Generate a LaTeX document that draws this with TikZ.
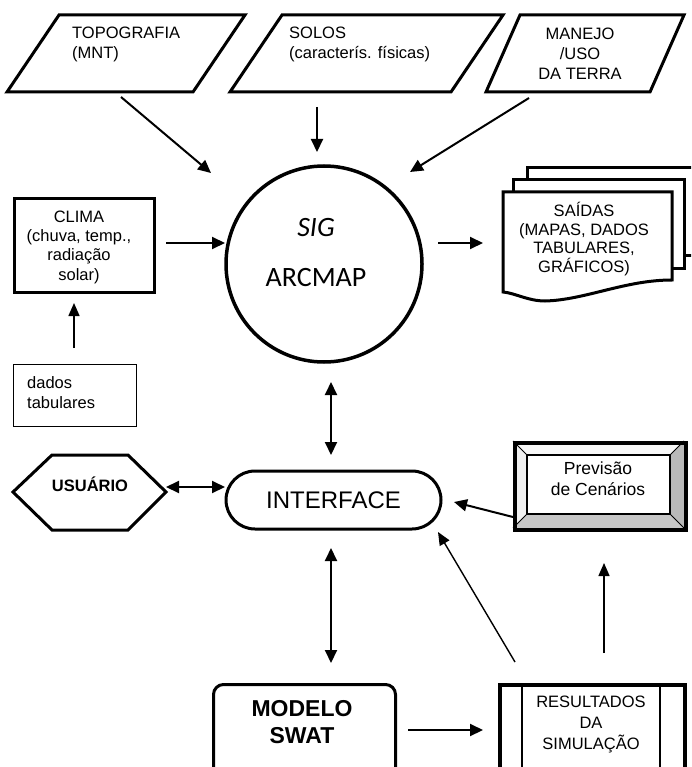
\documentclass[tikz,border=0pt]{standalone}
\usepackage{fontspec}
\setmainfont{Liberation Sans}
\newfontfamily\calfont{Carlito}
\usetikzlibrary{arrows.meta}
\begin{document}
\begin{tikzpicture}[x=1pt,y=-1pt,
  arr/.style={line width=2pt,-{Triangle[length=13pt,width=12pt]}},
  darr/.style={line width=2pt,{Triangle[length=13pt,width=12pt]}-{Triangle[length=13pt,width=12pt]}},
  tarr/.style={line width=1.4pt,-{Triangle[length=13pt,width=11pt]}},
  txt/.style={inner sep=0pt,font=\fontsize{16.5}{20}\selectfont},
  thick3/.style={line width=3pt},
  para/.style={line width=3pt,line join=miter},
  page/.style={line width=3pt,fill=white}]
\useasboundingbox (0,0) rectangle (691,767);
\clip (0,0) rectangle (691,767);
\fill[white] (0,0) rectangle (691,767);

% ---- top inputs (parallelograms)
\draw[para] (59,15) -- (245,15) -- (193,92) -- (7,92) -- cycle;
\node[txt,align=left,anchor=west] (topo) at (72,44) {TOPOGRAFIA\\(MNT)};
\draw[para] (282,15) -- (503,15) -- (451,92) -- (230,92) -- cycle;
\node[txt,align=left,anchor=west] (solos) at (289,44) {SOLOS\\(caracterís. físicas)};
\draw[para] (520,15) -- (684,15) -- (650,92) -- (486,92) -- cycle;
\node[txt,align=center] (manejo) at (580,54) {MANEJO\\/USO\\DA TERRA};

% ---- SIG circle
\node[circle,draw,line width=3.5pt,minimum size=196pt,inner sep=0pt] (sig) at (324,264) {};
\node[inner sep=0pt,font=\calfont\itshape\fontsize{28}{30}\selectfont] (sigt) at (316,228) {SIG};
\node[inner sep=0pt,font=\calfont\fontsize{28}{30}\selectfont] (arc) at (316,278) {ARCMAP};

% ---- CLIMA
\node[draw,thick3,minimum width=140pt,minimum height=94pt,anchor=north west] (climabox) at (13,197) {};
\node[txt,align=center,font=\fontsize{16.5}{19.3}\selectfont] (clima) at (79,247) {CLIMA\\(chuva, temp.,\\radiação\\solar)};

% ---- dados tabulares
\node[draw,line width=1.2pt,minimum width=123pt,minimum height=62pt,anchor=north west] (dadosbox) at (13,364) {};
\node[txt,align=left,anchor=west] (dados) at (27,393) {dados\\tabulares};

% ---- SAIDAS (multi document)
\draw[page] (527,168) rectangle (720,255);
\draw[page] (513,180) rectangle (684,268);
\draw[page,line join=miter] (503,192) -- (672,192) -- (672,280)
   .. controls (625,280) and (585,300) .. (545,301)
   .. controls (528,301) and (515,293) .. (503,292) -- cycle;
\node[txt,align=center,font=\fontsize{16.5}{18.5}\selectfont] (saidas) at (584,239) {SAÍDAS\\(MAPAS, DADOS\\TABULARES,\\GRÁFICOS)};

% ---- USUARIO hexagon
\draw[thick3,line join=miter] (13,492) -- (52,455) -- (128,455) -- (166,492) -- (128,530) -- (52,530) -- cycle;
\node[txt,font=\bfseries\fontsize{16.5}{20}\selectfont] (usr) at (90,484) {USUÁRIO};

% ---- INTERFACE
\node[draw,thick3,rounded corners=29pt,minimum width=215pt,minimum height=58pt,inner sep=0pt,
      font=\fontsize{24}{28}\selectfont] (iface) at (333.5,500) {INTERFACE};

% ---- Previsao de Cenarios (bevel box)
\fill[gray!6] (513,441) -- (684,441) -- (670,455) -- (527,455) -- cycle;
\fill[gray!12] (513,441) -- (527,455) -- (527,514) -- (513,528) -- cycle;
\fill[gray!55] (684,441) -- (684,528) -- (670,514) -- (670,455) -- cycle;
\fill[gray!45] (513,528) -- (684,528) -- (670,514) -- (527,514) -- cycle;
\draw[line width=1pt] (513,441) -- (527,455) (684,441) -- (670,455) (684,528) -- (670,514) (513,528) -- (527,514);
\draw[line width=2pt] (527,455) rectangle (670,514);
\node[draw,line width=3.5pt,minimum width=171pt,minimum height=87pt,anchor=north west] (prevbox) at (513,441) {};
\node[txt,align=center,font=\fontsize{17.5}{21}\selectfont] (prev) at (598,479) {Previsão\\de Cenários};

% ---- MODELO SWAT
\node[draw,thick3,rounded corners=10pt,minimum width=182pt,minimum height=110pt,anchor=north west] (swatbox) at (212,683) {};
\node[txt,align=center,font=\bfseries\fontsize{23}{27}\selectfont] (swat) at (302,722) {MODELO\\SWAT};

% ---- RESULTADOS
\node[draw,line width=3.5pt,minimum width=185pt,minimum height=110pt,anchor=north west] (resbox) at (498,683) {};
\draw[line width=2.5pt] (522,683) -- (522,800) (660,683) -- (660,800);
\node[txt,align=center,font=\fontsize{16.5}{21}\selectfont] (res) at (591,724) {RESULTADOS\\DA\\SIMULAÇÃO};

% ---- connector end points
\coordinate (a1s) at (121,97);  \coordinate (a1e) at (211,173);
\coordinate (a2s) at (317,107); \coordinate (a2e) at (317,152);
\coordinate (a3s) at (529,98);  \coordinate (a3e) at (410,172);
\coordinate (a4s) at (166,243); \coordinate (a4e) at (225,243);
\coordinate (a5s) at (438,243); \coordinate (a5e) at (483,243);
\coordinate (a6s) at (74,348);  \coordinate (a6e) at (74,303);
\coordinate (a7s) at (331,382); \coordinate (a7e) at (331,455);
\coordinate (a8s) at (166,487); \coordinate (a8e) at (225,487);
\coordinate (a9s) at (513,517); \coordinate (a9e) at (454,502);
\coordinate (a10s) at (515,662); \coordinate (a10e) at (438,532);
\coordinate (a11s) at (604,653); \coordinate (a11e) at (604,563);
\coordinate (a12s) at (331,548); \coordinate (a12e) at (331,663);
\coordinate (a13s) at (408,730); \coordinate (a13e) at (483,730);

\draw[arr] (a1s) -- (a1e);
\draw[arr] (a2s) -- (a2e);
\draw[arr] (a3s) -- (a3e);
\draw[arr] (a4s) -- (a4e);
\draw[arr] (a5s) -- (a5e);
\draw[tarr] (a6s) -- (a6e);
\draw[darr] (a7s) -- (a7e);
\draw[darr] (a8s) -- (a8e);
\draw[arr] (a9s) -- (a9e);
\draw[tarr] (a10s) -- (a10e);
\draw[tarr] (a11s) -- (a11e);
\draw[darr] (a12s) -- (a12e);
\draw[arr] (a13s) -- (a13e);
\end{tikzpicture}
\end{document}
